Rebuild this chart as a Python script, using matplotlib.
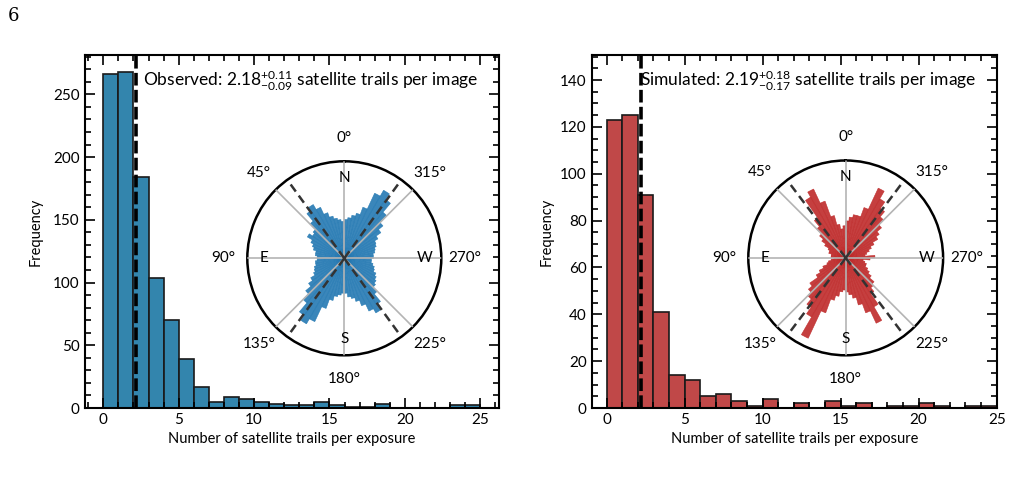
import numpy as np
import matplotlib
matplotlib.use("Agg")
import matplotlib.pyplot as plt
from matplotlib.ticker import MultipleLocator

plt.rcParams['font.family'] = ['Lato', 'DejaVu Sans']
plt.rcParams['mathtext.fontset'] = 'custom'
plt.rcParams['mathtext.rm'] = 'Lato'
plt.rcParams['mathtext.it'] = 'Lato:italic'
plt.rcParams['mathtext.bf'] = 'Lato:bold'

# histogram: one bin per trail count, 0..25
bin_edges = np.arange(0, 26, 1)
obs_counts = [266, 268, 184, 104, 70, 39, 17, 5, 9, 7, 5, 3, 2, 2, 5, 2, 1, 1, 3, 0, 0, 0, 0, 2, 2]
sim_counts = [123, 125, 91, 41, 14, 12, 5, 6, 3, 1, 4, 0, 2, 0, 3, 1, 2, 0, 1, 1, 2, 1, 0, 1, 1]
obs_mean = 2.18
sim_mean = 2.19
obs_label = r'Observed: $2.18^{+0.11}_{-0.09}$ satellite trails per image'
sim_label = r'Simulated: $2.19^{+0.18}_{-0.17}$ satellite trails per image'

# rose diagrams: 5 deg bins counter-clockwise from north, length as fraction of the ring
rose_bins_deg = np.arange(0, 360, 5)
obs_rose = [0.38, 0.40, 0.42, 0.45, 0.50, 0.58, 0.64, 0.60, 0.50, 0.42, 0.40, 0.44,
            0.38, 0.35, 0.33, 0.30, 0.30, 0.28, 0.28, 0.30, 0.30, 0.32, 0.33, 0.35,
            0.40, 0.45, 0.52, 0.60, 0.72, 0.78, 0.72, 0.55, 0.45, 0.40, 0.38, 0.36,
            0.36, 0.40, 0.42, 0.46, 0.52, 0.60, 0.65, 0.58, 0.48, 0.42, 0.40, 0.38,
            0.36, 0.33, 0.32, 0.30, 0.28, 0.28, 0.30, 0.30, 0.32, 0.33, 0.35, 0.36,
            0.40, 0.46, 0.52, 0.62, 0.74, 0.81, 0.74, 0.56, 0.48, 0.45, 0.42, 0.40]
sim_rose = [0.33, 0.30, 0.35, 0.45, 0.62, 0.78, 0.72, 0.50, 0.42, 0.35, 0.30, 0.25,
            0.20, 0.18, 0.18, 0.15, 0.15, 0.15, 0.12, 0.15, 0.18, 0.20, 0.25, 0.30,
            0.35, 0.45, 0.50, 0.55, 0.62, 0.70, 0.91, 0.60, 0.45, 0.40, 0.35, 0.33,
            0.35, 0.38, 0.42, 0.50, 0.60, 0.74, 0.58, 0.45, 0.40, 0.38, 0.32, 0.28,
            0.25, 0.22, 0.22, 0.20, 0.18, 0.25, 0.30, 0.20, 0.22, 0.25, 0.28, 0.32,
            0.38, 0.42, 0.48, 0.55, 0.62, 0.70, 0.79, 0.55, 0.45, 0.45, 0.42, 0.38]
obs_trail_angles = [36, 324]
sim_trail_angles = [37, 323]
compass = {0: 'N', 90: 'E', 180: 'S', 270: 'W'}


def histogram(ax, counts, mean, label, color, xlim, ylim, ymajor, yminor):
    ax.bar(bin_edges[:-1], counts, width=1, align='edge', color=color,
           edgecolor='#1a1a1a', linewidth=1.2)
    ax.axvline(mean, color='black', linestyle=(0, (3.5, 1.2)), linewidth=2.6)
    ax.set_xlim(xlim)
    ax.set_ylim(ylim)
    ax.xaxis.set_major_locator(MultipleLocator(5))
    ax.xaxis.set_minor_locator(MultipleLocator(1))
    ax.yaxis.set_major_locator(MultipleLocator(ymajor))
    ax.yaxis.set_minor_locator(MultipleLocator(yminor))
    ax.tick_params(which='both', direction='in', top=True, right=True, labelsize=11, width=1.2)
    ax.tick_params(which='major', length=7)
    ax.tick_params(which='minor', length=4)
    for s in ax.spines.values():
        s.set_linewidth(1.5)
    ax.set_xlabel('Number of satellite trails per exposure', fontsize=10.5)
    ax.set_ylabel('Frequency', fontsize=10.5)
    ax.text(0.95, 0.926, label, transform=ax.transAxes, ha='right', va='center', fontsize=12.5)


def rose(rect, radii, color, trail_angles):
    ax = fig.add_axes(rect, projection='polar')
    ax.set_theta_zero_location('N')
    ax.set_theta_direction(1)
    theta = np.deg2rad(rose_bins_deg + 2.5)
    ax.bar(theta, radii, width=np.deg2rad(5), color=color, alpha=0.9,
           edgecolor=color, linewidth=0.4, zorder=2)
    #spokes every 45 degrees
    for a in range(0, 360, 45):
        ax.plot([np.deg2rad(a)] * 2, [0, 1], color='#b4b4b4', linewidth=1.2, zorder=3)
    #mean trail directions
    for a in trail_angles:
        for t in (a, a + 180):
            ax.plot([np.deg2rad(t)] * 2, [0, 0.97], color='#333333', linestyle=(0, (3.5, 2)),
                    linewidth=1.8, zorder=4)
    ax.set_ylim(0, 1)
    ax.set_xticks([])
    ax.set_yticks([])
    ax.grid(False)
    ax.spines['polar'].set_linewidth(1.8)
    for a in range(0, 360, 45):
        ax.text(np.deg2rad(a), 1.245, f'{a}°', ha='center', va='center', fontsize=11, clip_on=False)
    for a, name in compass.items():
        ax.text(np.deg2rad(a), 0.83, name, ha='center', va='center', fontsize=11, zorder=5)
    return ax


fig = plt.figure(figsize=(10.12, 4.9), dpi=100)
ax1 = fig.add_axes([84.5 / 1012, 1 - 408 / 490, 414.5 / 1012, 353 / 490])
ax2 = fig.add_axes([591.7 / 1012, 1 - 408 / 490, 405.3 / 1012, 353 / 490])

histogram(ax1, obs_counts, obs_mean, obs_label, '#3385ad', (-1.25, 26.25), (0, 281.4), 50, 10)
histogram(ax2, sim_counts, sim_mean, sim_label, '#c04848', (-0.95, 25.02), (0, 150.7), 20, 5)
ax1.yaxis.set_label_coords(-0.1, 0.5)
ax2.yaxis.set_label_coords(-0.095, 0.5)

rose([247.3 / 1012, 1 - 355.3 / 490, 194 / 1012, 194 / 490], obs_rose, '#2479b3', obs_trail_angles)
rose([748.3 / 1012, 1 - 355.3 / 490, 194.8 / 1012, 194.8 / 490], sim_rose, '#bf2a2a', sim_trail_angles)

fig.text(14 / 1012, 1 - 16 / 490, '6', ha='center', va='center', fontsize=13, family='DejaVu Serif')

fig.savefig('out.png', dpi=100)
